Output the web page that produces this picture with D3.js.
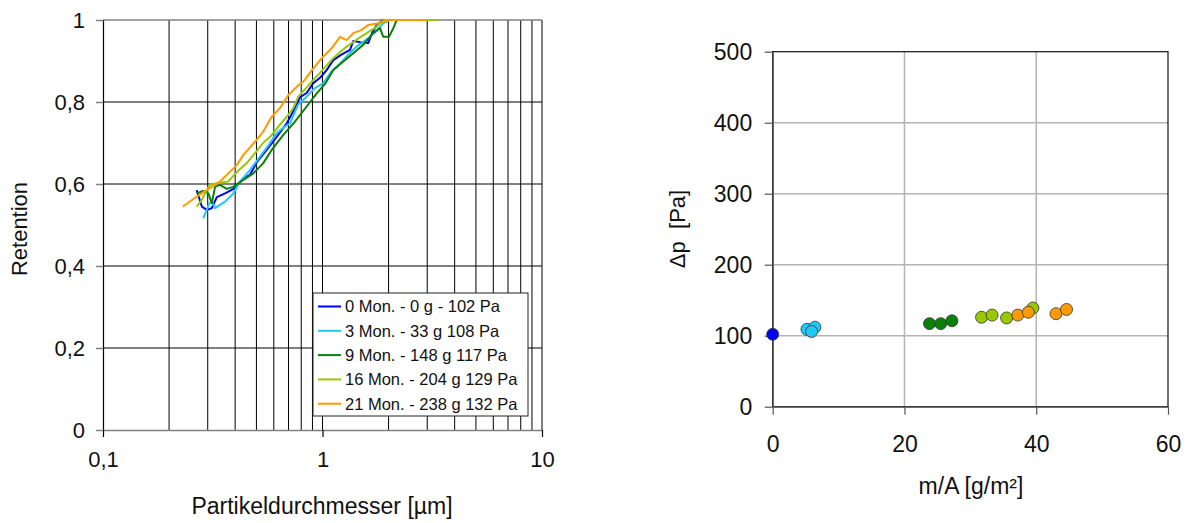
<!DOCTYPE html>
<html>
<head>
<meta charset="utf-8">
<script src="https://cdn.jsdelivr.net/npm/d3@7"></script>
<style>
  body { margin: 0; background: #fff; }
  svg { display: block; font-family: "Liberation Sans", Arial, sans-serif; }
</style>
</head>
<body>
<svg id="chart" width="1191" height="523"></svg>
<script>
// ---- Retention curves: particle diameter [µm] vs. fractional retention ----
const diam0 = [0.267,0.282,0.297,0.313,0.330,0.360,0.399,0.436,0.467,0.503,0.557,0.618,0.687,0.734,0.790,0.847,0.908,0.974,1.045,1.120,1.214,1.335,1.381,1.482,1.617,1.681,1.766,1.892];
const ret0  = [0.585,0.545,0.537,0.541,0.568,0.577,0.590,0.614,0.622,0.654,0.683,0.715,0.748,0.776,0.812,0.822,0.846,0.859,0.878,0.902,0.915,0.927,0.949,0.946,0.944,0.968,0.988,1.0];

const diam3 = [0.286,0.297,0.305,0.313,0.324,0.341,0.360,0.392,0.421,0.467,0.519,0.565,0.618,0.661,0.711,0.773,0.847,0.924,1.008,1.093,1.202,1.307,1.431,1.530,1.646,1.772,1.892,2.030];
const ret3  = [0.516,0.537,0.553,0.557,0.541,0.549,0.557,0.577,0.606,0.634,0.667,0.693,0.724,0.737,0.748,0.793,0.813,0.834,0.846,0.873,0.894,0.915,0.935,0.946,0.959,0.976,0.992,1.0];

const diam9 = [0.267,0.285,0.302,0.313,0.324,0.341,0.366,0.392,0.436,0.484,0.537,0.587,0.663,0.749,0.847,0.941,1.027,1.120,1.240,1.381,1.530,1.704,1.828,1.892,2.009,2.102,2.178];
const ret9  = [0.577,0.583,0.577,0.553,0.593,0.598,0.588,0.593,0.610,0.626,0.651,0.683,0.720,0.752,0.789,0.821,0.844,0.878,0.898,0.919,0.939,0.968,0.980,0.959,0.959,0.980,1.0];

const diam16 = [0.267,0.282,0.292,0.307,0.330,0.372,0.407,0.452,0.501,0.536,0.577,0.627,0.687,0.736,0.776,0.841,0.908,0.974,1.120,1.202,1.289,1.456,1.590,1.766,1.828,1.995,3.36];
const ret16  = [0.545,0.561,0.578,0.598,0.602,0.606,0.629,0.651,0.680,0.700,0.715,0.739,0.764,0.785,0.813,0.834,0.854,0.871,0.907,0.922,0.935,0.955,0.968,0.984,0.992,1.0,1.0];

const diam21 = [0.231,0.267,0.297,0.341,0.407,0.436,0.493,0.537,0.587,0.640,0.699,0.776,0.818,0.908,1.008,1.101,1.202,1.289,1.381,1.509,1.617,1.796,1.927,2.98];
const ret21  = [0.545,0.569,0.585,0.606,0.646,0.671,0.703,0.728,0.764,0.785,0.817,0.841,0.850,0.882,0.911,0.931,0.959,0.951,0.968,0.976,0.988,0.992,1.0,1.0];

const legendLabels = ["0 Mon. - 0 g - 102 Pa", "3 Mon. - 33 g 108 Pa", "9 Mon. - 148 g 117 Pa", "16 Mon. - 204 g 129 Pa", "21 Mon. - 238 g 132 Pa"];
const retXTicks = [0.1, 1, 10];
const retXTickLabels = ["0,1", "1", "10"];
const retYTicks = [0, 0.2, 0.4, 0.6, 0.8, 1];
const retYTickLabels = ["0", "0,2", "0,4", "0,6", "0,8", "1"];

// ---- Pressure drop vs. areal dust load ----
const load0 = [0],              dp0 = [102];
const load3 = [5.2, 6.4, 5.9],  dp3 = [109, 112, 106];
const load9 = [23.8, 25.5, 27.2], dp9 = [117, 117, 121];
const load16 = [31.7, 33.3, 35.5, 39.5], dp16 = [126, 129, 125, 139];
const load21 = [37.2, 38.8, 43.0, 44.6], dp21 = [129, 133, 131, 137];
const dpXTicks = [0, 20, 40, 60];
const dpYTicks = [0, 100, 200, 300, 400, 500];

const colors = ["#0000ff", "#22c8f5", "#0a800a", "#99c800", "#ff9a00"];

const retSeries = [[diam0, ret0], [diam3, ret3], [diam9, ret9], [diam16, ret16], [diam21, ret21]]
  .map(([d, r], i) => ({ color: colors[i], label: legendLabels[i], pts: d.map((v, j) => [v, r[j]]) }));
const dpSeries = [[load0, dp0], [load3, dp3], [load9, dp9], [load16, dp16], [load21, dp21]]
  .map(([x, y], i) => ({ color: colors[i], pts: x.map((v, j) => [v, y[j]]) }));

const svg = d3.select("#chart");

// ================= Left panel: retention (log x) =================
const xL = d3.scaleLog().domain([0.1, 10]).range([103, 542]);
const yL = d3.scaleLinear().domain([0, 1]).range([430, 20]);
const left = svg.append("g");

// vertical log grid (minor + major decades)
const logGrid = [];
[0.1, 1].forEach(dec => { for (let k = 2; k <= 9; k++) logGrid.push(dec * k); });
logGrid.push(1, 10);
left.append("g").selectAll("line").data(logGrid).join("line")
  .attr("x1", d => xL(d)).attr("x2", d => xL(d))
  .attr("y1", yL(0)).attr("y2", yL(1))
  .attr("stroke", "#000").attr("stroke-width", 1);

// horizontal grid
left.append("g").selectAll("line").data(retYTicks.filter(v => v > 0 && v < 1)).join("line")
  .attr("x1", xL(0.1)).attr("x2", xL(10))
  .attr("y1", d => yL(d)).attr("y2", d => yL(d))
  .attr("stroke", "#000").attr("stroke-width", 1);
left.append("line")
  .attr("x1", xL(0.1)).attr("x2", xL(10)).attr("y1", yL(1)).attr("y2", yL(1))
  .attr("stroke", "#808080").attr("stroke-width", 1.5);

// axes
const axLY = d3.axisLeft(yL).tickValues(retYTicks).tickSize(7).tickPadding(11)
  .tickFormat((d, i) => retYTickLabels[i]).tickSizeOuter(0);
const gLY = left.append("g").attr("transform", `translate(${xL(0.1)},0)`).call(axLY);
const axLX = d3.axisBottom(xL).tickValues(retXTicks).tickSize(7).tickPadding(14)
  .tickFormat((d, i) => retXTickLabels[i]).tickSizeOuter(0);
const gLX = left.append("g").attr("transform", `translate(0,${yL(0)})`).call(axLX);
gLY.select(".domain").attr("stroke", "#000").attr("stroke-width", 1.2);
gLY.selectAll(".tick line").attr("stroke", "#808080").attr("stroke-width", 1.5);
gLX.select(".domain").attr("stroke", "#808080").attr("stroke-width", 1.5);
gLX.selectAll(".tick line").attr("stroke", "#000").attr("stroke-width", 1.2);
[gLY, gLX].forEach(g => g.selectAll("text").attr("font-size", 22).attr("fill", "#111")
  .attr("font-family", "'Liberation Sans', Arial, sans-serif"));

// curves
const lineL = d3.line().x(d => xL(d[0])).y(d => yL(d[1]));
left.append("g").selectAll("path").data(retSeries).join("path")
  .attr("d", s => lineL(s.pts))
  .attr("fill", "none").attr("stroke", s => s.color)
  .attr("stroke-width", 2).attr("stroke-linejoin", "round");

// axis titles
left.append("text").attr("transform", `translate(27,229) rotate(-90)`)
  .attr("text-anchor", "middle").attr("font-size", 22).attr("fill", "#111").text("Retention");
left.append("text").attr("x", 322).attr("y", 514)
  .attr("text-anchor", "middle").attr("font-size", 23).attr("fill", "#111").text("Partikeldurchmesser [µm]");

// legend
const lg = left.append("g").attr("transform", "translate(313,293)");
lg.append("rect").attr("width", 215).attr("height", 123)
  .attr("fill", "#fff").attr("stroke", "#222").attr("stroke-width", 1);
const rows = lg.selectAll("g").data(retSeries).join("g")
  .attr("transform", (d, i) => `translate(0,${13.5 + i * 24.3})`);
rows.append("line").attr("x1", 5).attr("x2", 28).attr("stroke", d => d.color).attr("stroke-width", 2);
rows.append("text").attr("x", 32).attr("dy", "0.36em").attr("font-size", 16.5).attr("fill", "#111")
  .text(d => d.label);

// ================= Right panel: pressure drop =================
const xR = d3.scaleLinear().domain([0, 60]).range([772.7, 1168]);
const yR = d3.scaleLinear().domain([0, 500]).range([406.7, 51.7]);
const right = svg.append("g");

right.append("g").selectAll("line").data(dpYTicks.filter(v => v > 0 && v < 500)).join("line")
  .attr("x1", xR(0)).attr("x2", xR(60)).attr("y1", d => yR(d)).attr("y2", d => yR(d))
  .attr("stroke", "#b4b4b4").attr("stroke-width", 1.5);
right.append("g").selectAll("line").data(dpXTicks.filter(v => v > 0 && v < 60)).join("line")
  .attr("x1", d => xR(d)).attr("x2", d => xR(d)).attr("y1", yR(0)).attr("y2", yR(500))
  .attr("stroke", "#b4b4b4").attr("stroke-width", 1.5);

// frame
right.append("rect").attr("x", xR(0)).attr("y", yR(500))
  .attr("width", xR(60) - xR(0)).attr("height", yR(0) - yR(500))
  .attr("fill", "none").attr("stroke", "#111").attr("stroke-width", 1.2);

const axRY = d3.axisLeft(yR).tickValues(dpYTicks).tickSize(8).tickPadding(12.5).tickSizeOuter(0);
const gRY = right.append("g").attr("transform", `translate(${xR(0)},0)`).call(axRY);
const axRX = d3.axisBottom(xR).tickValues(dpXTicks).tickSize(8).tickPadding(21).tickSizeOuter(0);
const gRX = right.append("g").attr("transform", `translate(0,${yR(0)})`).call(axRX);
[gRY, gRX].forEach(g => {
  g.select(".domain").attr("stroke", "#555").attr("stroke-width", 1.2);
  g.selectAll(".tick line").attr("stroke", "#555").attr("stroke-width", 1.2);
  g.selectAll("text").attr("font-size", 23).attr("fill", "#111")
    .attr("font-family", "'Liberation Sans', Arial, sans-serif");
});

// points, later series on top
right.append("g").selectAll("g").data(dpSeries).join("g")
  .attr("fill", s => s.color)
  .selectAll("circle").data(s => s.pts).join("circle")
  .attr("cx", d => xR(d[0])).attr("cy", d => yR(d[1])).attr("r", 6)
  .attr("stroke", "#333").attr("stroke-width", 0.8);

right.append("text").attr("transform", `translate(685,229) rotate(-90)`)
  .attr("text-anchor", "middle").attr("font-size", 22).attr("fill", "#111")
  .style("white-space", "pre").text("Δp  [Pa]");
right.append("text").attr("x", 971).attr("y", 494)
  .attr("text-anchor", "middle").attr("font-size", 23).attr("fill", "#111").text("m/A [g/m²]");
</script>
</body>
</html>
